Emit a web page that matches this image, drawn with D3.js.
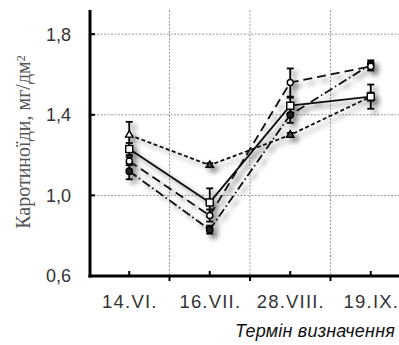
<!DOCTYPE html>
<html>
<head>
<meta charset="utf-8">
<script src="https://cdn.jsdelivr.net/npm/d3@7"></script>
<style>
  html, body { margin: 0; padding: 0; background: #fff; }
  svg { display: block; }
</style>
</head>
<body>
<svg id="chart" width="399" height="345"></svg>
<script>
// data
const categories = ["14.VI.", "16.VII.", "28.VIII.", "19.IX."];
const yTicks = [0.6, 1.0, 1.4, 1.8];

const shortDashVals = [1.30, 1.15, 1.30, 1.49];
const shortDashErr  = [0.065, 0.01, 0.01, 0.02];
const solidVals     = [1.23, 0.965, 1.445, 1.49];
const solidErr      = [0.03, 0.07, 0.04, 0.06];
const longDashVals  = [1.17, 0.90, 1.56, 1.64];
const longDashErr   = [0.02, 0.03, 0.07, 0.02];
const dashDotVals   = [1.12, 0.83, 1.40, 1.65];
const dashDotErr    = [0.04, 0.02, 0.04, 0.02];

const yTitle = "Каротиноїди, мг/дм";
const xTitle = "Термін визначення";

const series = [
    { vals: dashDotVals, err: dashDotErr, dash: "9,3,1.5,3", marker: "dot" },
    { vals: longDashVals, err: longDashErr, dash: "9,5", marker: "circle" },
    { vals: shortDashVals, err: shortDashErr, dash: "4,2.5", marker: "triangle" },
    { vals: solidVals, err: solidErr, dash: null, marker: "square" }
];

const svg = d3.select("#chart");
const plotLeft = 90, plotBottom = 276, plotTop = 10;

const x = d3.scaleBand().domain(categories).range([89, 411]).padding(0);
const y = d3.scaleLinear().domain([0.6, 1.92]).range([plotBottom, plotTop]);

// shadow filter
const defs = svg.append("defs");
const f = defs.append("filter").attr("id", "shadow")
    .attr("x", "-20%").attr("y", "-20%").attr("width", "150%").attr("height", "150%");
f.append("feGaussianBlur").attr("in", "SourceAlpha").attr("stdDeviation", 2.6).attr("result", "b");
f.append("feOffset").attr("in", "b").attr("dx", 4).attr("dy", 4).attr("result", "o");
f.append("feComponentTransfer").attr("in", "o").attr("result", "s")
    .append("feFuncA").attr("type", "linear").attr("slope", 0.5);
const fm = f.append("feMerge");
fm.append("feMergeNode").attr("in", "s");
fm.append("feMergeNode").attr("in", "SourceGraphic");

// grid
const grid = svg.append("g").attr("stroke", "#999").attr("stroke-width", 1).attr("stroke-dasharray", "2,1.5");
yTicks.filter(d => d > 0.6).forEach(v => {
    grid.append("line").attr("x1", plotLeft).attr("x2", 399).attr("y1", y(v)).attr("y2", y(v));
});
categories.slice(1).forEach(c => {
    grid.append("line").attr("x1", x(c)).attr("x2", x(c)).attr("y1", plotTop).attr("y2", plotBottom);
});

// series
const plot = svg.append("g").attr("filter", "url(#shadow)");
const line = d3.line().x((d, i) => x(categories[i]) + x.bandwidth() / 2).y(d => y(d));

series.forEach(s => {
    plot.append("path")
        .datum(s.vals)
        .attr("d", line)
        .attr("fill", "none")
        .attr("stroke", "#111")
        .attr("stroke-width", 1.8)
        .attr("stroke-dasharray", s.dash);
});

series.forEach(s => {
    s.vals.forEach((v, i) => {
        const cx = x(categories[i]) + x.bandwidth() / 2;
        const e = s.err[i];
        const eb = plot.append("g").attr("stroke", "#000").attr("stroke-width", 1.8);
        eb.append("line").attr("x1", cx).attr("x2", cx).attr("y1", y(v + e)).attr("y2", y(v - e));
        eb.append("line").attr("x1", cx - 3.5).attr("x2", cx + 3.5).attr("y1", y(v + e)).attr("y2", y(v + e));
        eb.append("line").attr("x1", cx - 3.5).attr("x2", cx + 3.5).attr("y1", y(v - e)).attr("y2", y(v - e));
    });
});

series.forEach(s => {
    s.vals.forEach((v, i) => {
        const cx = x(categories[i]) + x.bandwidth() / 2, cy = y(v);
        let m;
        if (s.marker === "square") {
            m = plot.append("rect").attr("x", cx - 3.5).attr("y", cy - 3.5).attr("width", 7).attr("height", 7).attr("fill", "#fff");
        } else if (s.marker === "triangle") {
            m = plot.append("path").attr("d", d3.symbol(d3.symbolTriangle, 24)()).attr("transform", `translate(${cx},${cy})`).attr("fill", i === 0 ? "#fff" : "#444");
        } else if (s.marker === "circle") {
            m = plot.append("circle").attr("cx", cx).attr("cy", cy).attr("r", 3).attr("fill", "#fff");
        } else {
            m = plot.append("circle").attr("cx", cx).attr("cy", cy).attr("r", 3.2).attr("fill", "#222");
        }
        m.attr("stroke", "#000").attr("stroke-width", 1.4);
    });
});

// axes
const ax = svg.append("g").attr("stroke", "#000");
ax.append("line").attr("x1", plotLeft).attr("x2", plotLeft).attr("y1", plotTop).attr("y2", plotBottom + 1.5).attr("stroke-width", 3);
ax.append("line").attr("x1", plotLeft - 1.5).attr("x2", 399).attr("y1", plotBottom).attr("y2", plotBottom).attr("stroke-width", 3);
yTicks.forEach(v => {
    ax.append("line").attr("x1", plotLeft).attr("x2", plotLeft + 5).attr("y1", y(v)).attr("y2", y(v)).attr("stroke-width", 2);
});
categories.forEach(c => {
    const cx = x(c) + x.bandwidth() / 2;
    ax.append("line").attr("x1", cx).attr("x2", cx).attr("y1", plotBottom).attr("y2", plotBottom - 5).attr("stroke-width", 2);
});
categories.slice(1).forEach(c => {
    ax.append("line").attr("x1", x(c)).attr("x2", x(c)).attr("y1", plotBottom).attr("y2", plotBottom + 5).attr("stroke-width", 2);
});

// tick labels
svg.append("g").selectAll("text").data(yTicks).join("text")
    .attr("x", 71).attr("y", d => y(d)).attr("dy", "0.36em")
    .attr("text-anchor", "end")
    .style("font-family", "'Liberation Sans', Arial, sans-serif")
    .style("font-size", "18px").style("fill", "#333")
    .text(d => d.toFixed(1).replace(".", ","));

svg.append("g").selectAll("text").data(categories).join("text")
    .attr("x", d => x(d) + x.bandwidth() / 2 + 0.6).attr("y", 308)
    .attr("text-anchor", "middle")
    .style("font-family", "'Liberation Sans', Arial, sans-serif")
    .style("font-size", "18.5px").style("letter-spacing", "1.2px").style("fill", "#333")
    .text(d => d);

svg.append("text")
    .attr("x", 235).attr("y", 337)
    .style("font-family", "'Liberation Sans', Arial, sans-serif")
    .style("font-size", "18px").style("letter-spacing", "0.2px")
    .style("font-style", "italic").style("fill", "#111")
    .text(xTitle);

const yt = svg.append("text")
    .attr("transform", "translate(30,142) rotate(-90)")
    .attr("text-anchor", "middle")
    .style("font-family", "'Liberation Serif', 'Times New Roman', serif")
    .style("font-size", "20px").style("fill", "#555");
yt.append("tspan").text(yTitle);
yt.append("tspan").attr("dy", "-0.45em").style("font-size", "12px").text("2");
</script>
</body>
</html>
